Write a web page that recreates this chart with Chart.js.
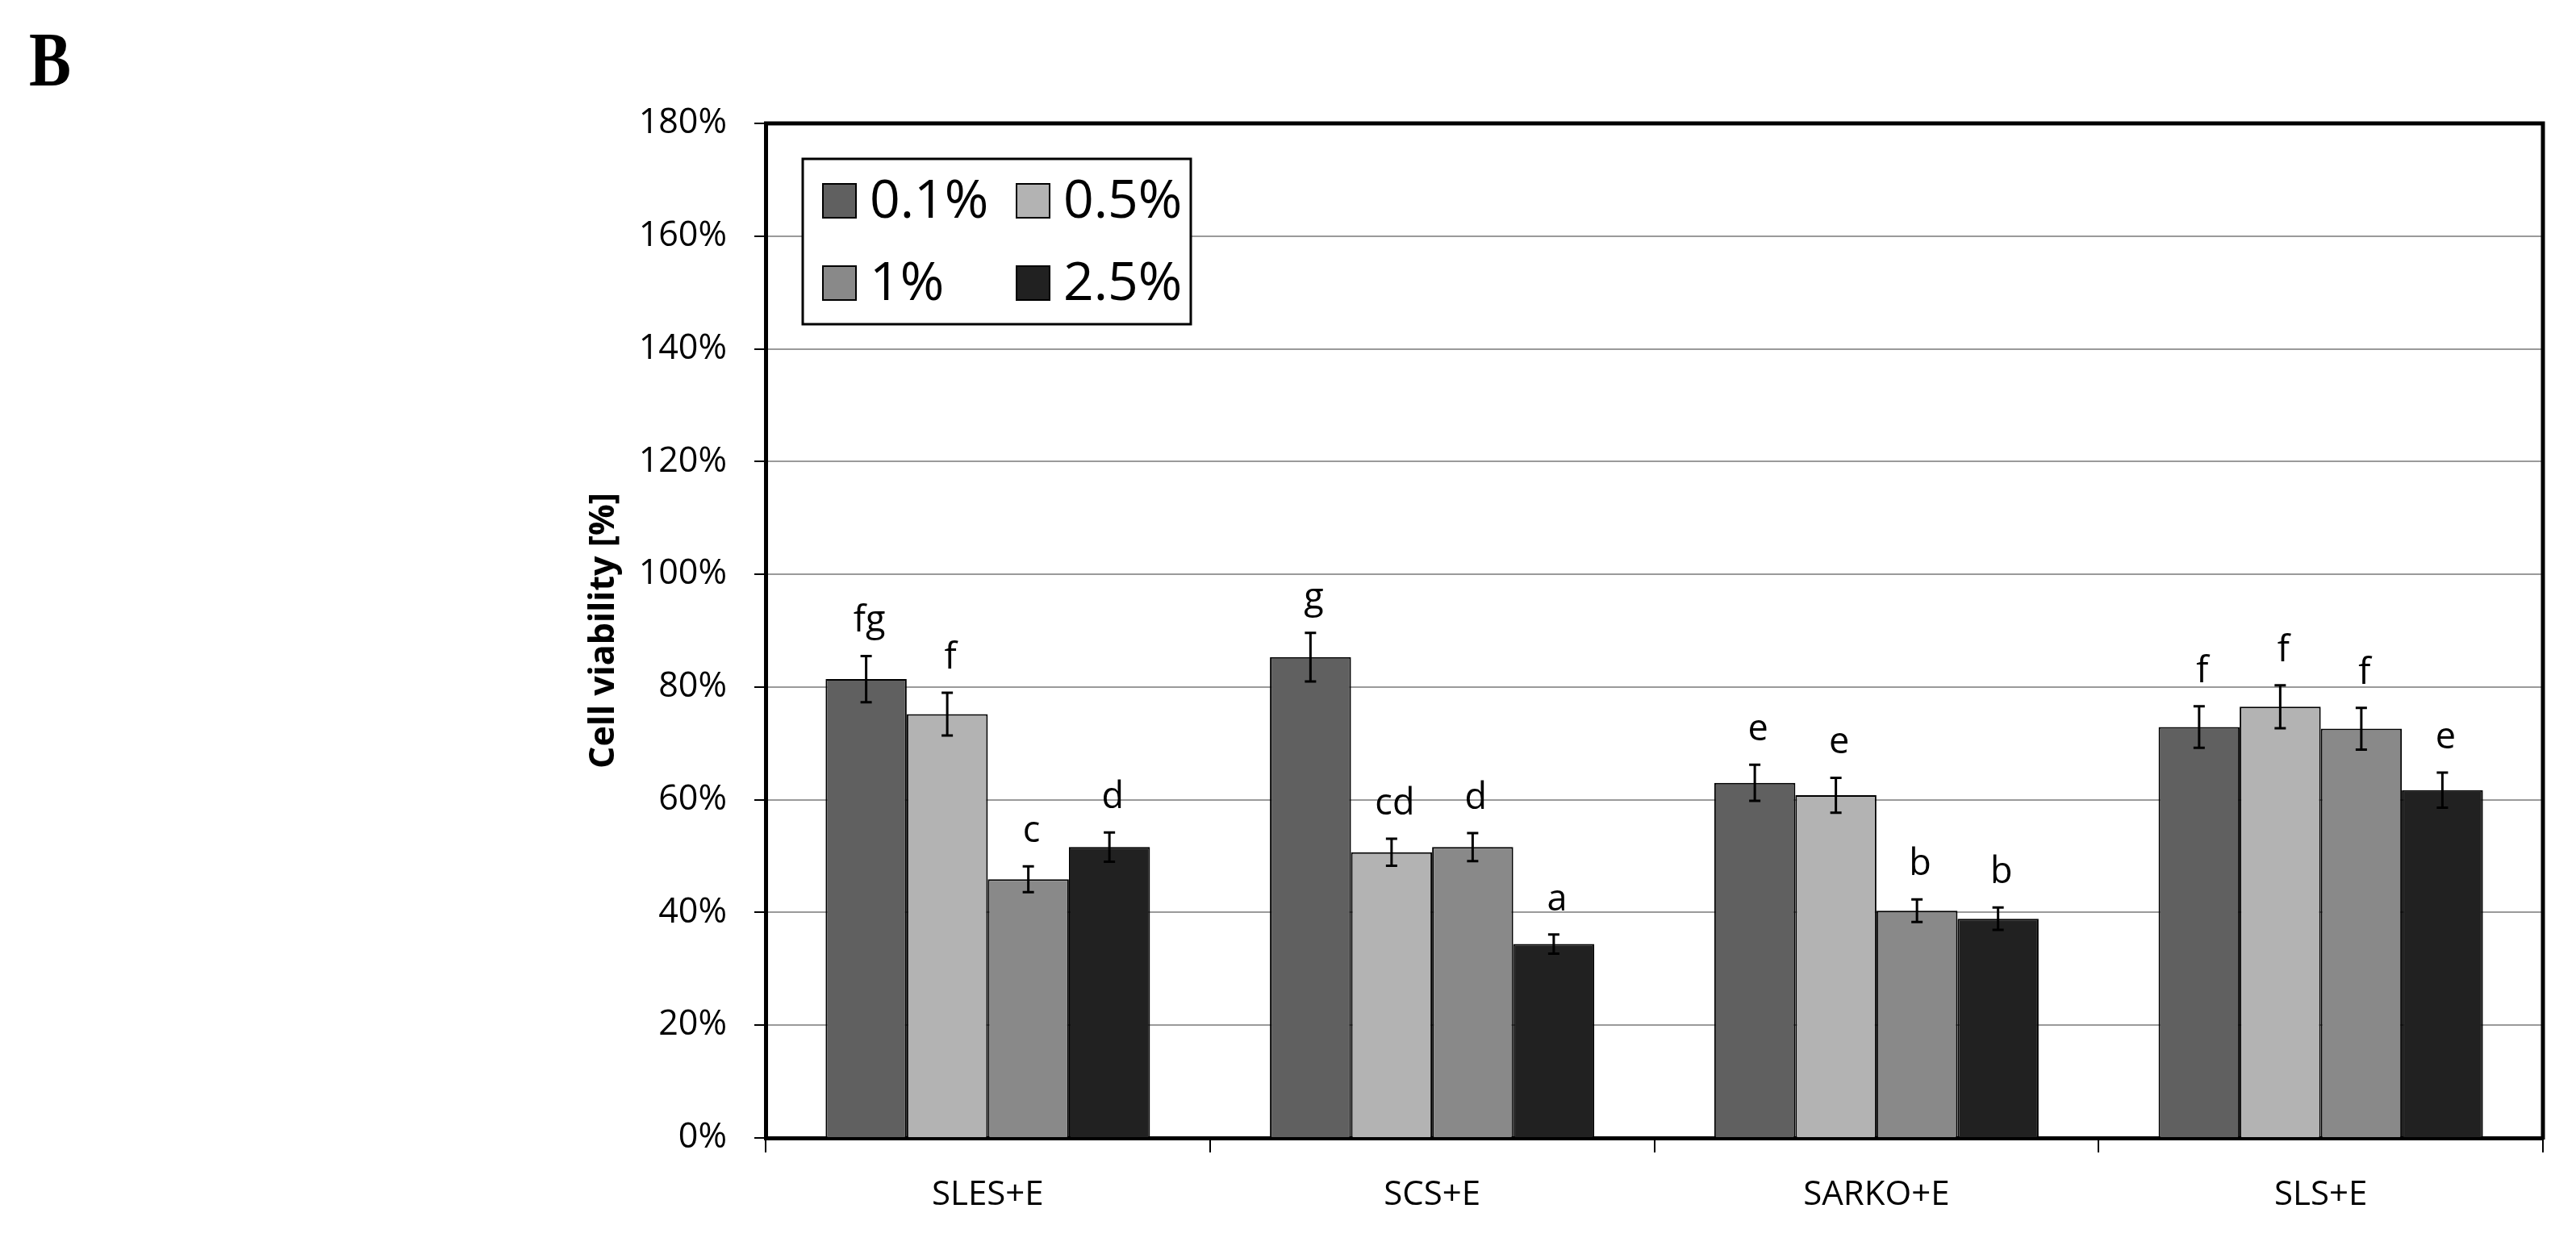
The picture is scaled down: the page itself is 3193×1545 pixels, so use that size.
<!DOCTYPE html>
<html>
<head>
<meta charset="utf-8">
<script src="https://cdn.jsdelivr.net/npm/chart.js@4.4.1/dist/chart.umd.min.js"></script>
<style>
  html, body { margin: 0; padding: 0; background: #fff; }
  #wrap { position: relative; width: 3193px; height: 1545px; }
  #panel { position: absolute; left: 36px; top: 27px; font: bold 95px "Liberation Serif", serif; line-height: 95px; color: #000; transform: scaleX(0.82); transform-origin: left top; }
</style>
</head>
<body>
<div id="wrap">
  <canvas id="viabilityChart" width="3193" height="1545"></canvas>
  <div id="panel">B</div>
</div>
<script>
// Data
const categories = ['SLES+E', 'SCS+E', 'SARKO+E', 'SLS+E'];
const seriesLabels = ['0.1%', '0.5%', '1%', '2.5%'];
const seriesColors = ['#606060', '#b3b3b3', '#898989', '#212121'];

const val01 = [81.4, 85.3, 63.0, 72.9];
const val05 = [75.2, 50.7, 60.8, 76.5];
const val1 = [45.9, 51.6, 40.3, 72.6];
const val25 = [51.6, 34.4, 38.9, 61.7];

const err01 = [4.1, 4.3, 3.2, 3.7];
const err05 = [3.8, 2.4, 3.1, 3.8];
const err1 = [2.3, 2.5, 2.0, 3.7];
const err25 = [2.6, 1.7, 2.0, 3.1];

const sig01 = ['fg', 'g', 'e', 'f'];
const sig05 = ['f', 'cd', 'e', 'f'];
const sig1 = ['c', 'd', 'b', 'f'];
const sig25 = ['d', 'a', 'b', 'e'];

const yTicks = [0, 20, 40, 60, 80, 100, 120, 140, 160, 180];

const values = [val01, val05, val1, val25];
const errors = [err01, err05, err1, err25];
const letters = [sig01, sig05, sig1, sig25];

const FONT = '"Open Sans", "DejaVu Sans", sans-serif';

// error bars + significance letters
const errorBarPlugin = {
    id: 'errorBars',
    afterDatasetsDraw(chart) {
        const ctx = chart.ctx;
        const y = chart.scales.y;
        ctx.save();
        ctx.strokeStyle = '#000';
        ctx.lineWidth = 3;
        chart.data.datasets.forEach((ds, i) => {
            const meta = chart.getDatasetMeta(i);
            meta.data.forEach((bar, j) => {
                const v = ds.data[j], e = errors[i][j];
                const yt = y.getPixelForValue(v + e);
                const yb = y.getPixelForValue(v - e);
                ctx.beginPath();
                ctx.moveTo(bar.x, yt); ctx.lineTo(bar.x, yb);
                ctx.moveTo(bar.x - 7, yt); ctx.lineTo(bar.x + 7, yt);
                ctx.moveTo(bar.x - 7, yb); ctx.lineTo(bar.x + 7, yb);
                ctx.stroke();
                ctx.fillStyle = '#000';
                ctx.font = '45px ' + FONT;
                ctx.textAlign = 'center';
                ctx.textBaseline = 'alphabetic';
                ctx.fillText(letters[i][j], bar.x + 4, yt - 30);
            });
        });
        ctx.restore();
    }
};

// plot frame (top + right) and the boxed 2x2 legend
const frameLegendPlugin = {
    id: 'frameLegend',
    afterDraw(chart) {
        const ctx = chart.ctx;
        const a = chart.chartArea;
        ctx.save();
        ctx.strokeStyle = '#000';
        ctx.lineWidth = 5;
        ctx.beginPath();
        ctx.moveTo(a.left - 2, a.top);
        ctx.lineTo(a.right, a.top);
        ctx.lineTo(a.right, a.bottom + 2);
        ctx.stroke();

        const lx = a.left + 46, ly = a.top + 44, lw = 481, lh = 205;
        ctx.fillStyle = '#fff';
        ctx.fillRect(lx, ly, lw, lh);
        ctx.lineWidth = 3;
        ctx.strokeRect(lx, ly, lw, lh);
        ctx.font = '66px ' + FONT;
        ctx.textBaseline = 'middle';
        ctx.textAlign = 'left';
        chart.data.datasets.forEach((ds, i) => {
            const col = i % 2, row = Math.floor(i / 2);
            const sx = lx + 25 + col * 240;
            const cy = ly + 52 + row * 102;
            ctx.fillStyle = ds.backgroundColor;
            ctx.fillRect(sx, cy - 21, 41, 42);
            ctx.lineWidth = 2;
            ctx.strokeRect(sx, cy - 21, 41, 42);
            ctx.fillStyle = '#000';
            ctx.fillText(ds.label, sx + 58, cy + 2);
        });
        ctx.restore();
    }
};

const ctx = document.getElementById('viabilityChart').getContext('2d');
new Chart(ctx, {
    type: 'bar',
    data: {
        labels: categories,
        datasets: seriesLabels.map((lab, i) => ({
            label: lab,
            data: values[i],
            backgroundColor: seriesColors[i],
            borderColor: '#000',
            borderWidth: 2,
            categoryPercentage: 0.73,
            barPercentage: 1.0
        }))
    },
    options: {
        responsive: false,
        devicePixelRatio: 1,
        animation: false,
        layout: { padding: { top: 153, right: 41, left: 0, bottom: 0 } },
        plugins: { legend: { display: false }, tooltip: { enabled: false } },
        scales: {
            x: {
                grid: { offset: true, drawOnChartArea: false, tickLength: 18, color: '#000', lineWidth: 2 },
                border: { color: '#000', width: 5 },
                ticks: { color: '#000', font: { family: FONT, size: 42 }, padding: 28 },
                afterFit(s) { s.height = 134; }
            },
            y: {
                min: 0, max: 180,
                afterBuildTicks(s) { s.ticks = yTicks.map(v => ({ value: v })); },
                ticks: { color: '#000', font: { family: FONT, size: 43 }, padding: 34, callback: v => v + '%' },
                grid: { color: '#9a9a9a', lineWidth: 2, tickLength: 14, tickColor: '#000', tickWidth: 2 },
                border: { color: '#000', width: 5 },
                title: {
                    display: true, text: 'Cell viability [%]', color: '#000',
                    font: { family: FONT, size: 43, weight: 'bold' },
                    padding: { top: 723, bottom: 0 }
                },
                afterFit(s) { s.width = 949; }
            }
        }
    },
    plugins: [errorBarPlugin, frameLegendPlugin]
});
</script>
</body>
</html>
